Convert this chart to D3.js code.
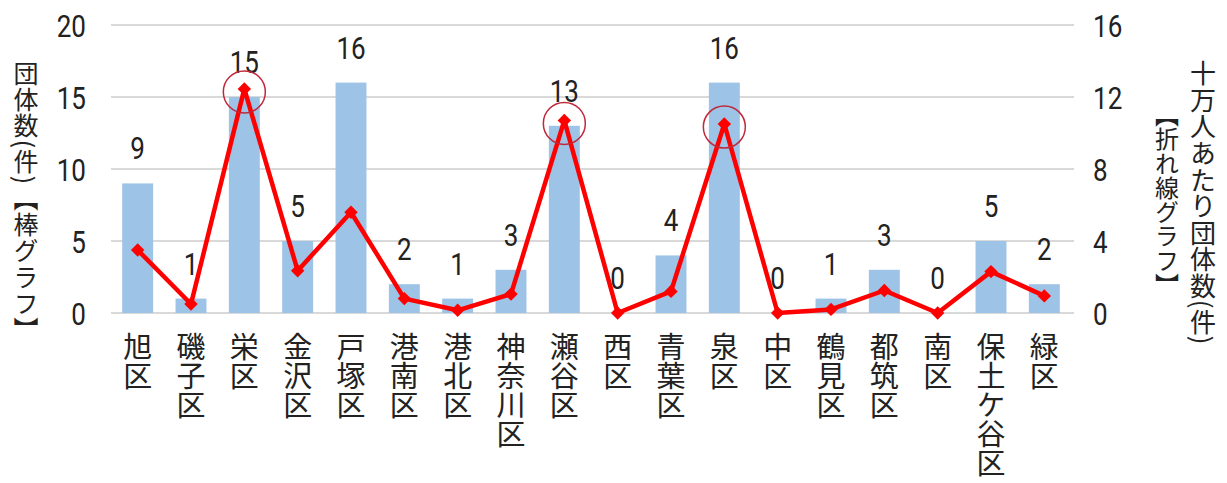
<!DOCTYPE html>
<html>
<head>
<meta charset="utf-8">
<script src="https://cdn.jsdelivr.net/npm/d3@7"></script>
<style>
  html, body { margin: 0; padding: 0; background: #fff; }
  svg { display: block; }
  .num { font-family: "Roboto", "Liberation Sans", sans-serif; fill: #222; }
  .jp { font-family: "Noto Sans CJK JP", sans-serif; fill: #222; }
  .vert { writing-mode: vertical-rl; }
</style>
</head>
<body>
<svg id="chart" width="1227" height="483"></svg>
<script>
// ---- data ----
const categories = ["旭区","磯子区","栄区","金沢区","戸塚区","港南区","港北区","神奈川区","瀬谷区","西区","青葉区","泉区","中区","鶴見区","都筑区","南区","保土ケ谷区","緑区"];
const groupCounts = [9, 1, 15, 5, 16, 2, 1, 3, 13, 0, 4, 16, 0, 1, 3, 0, 5, 2];
const perCapita = [3.5, 0.5, 12.45, 2.35, 5.6, 0.8, 0.15, 1.05, 10.7, 0, 1.2, 10.5, 0, 0.2, 1.25, 0, 2.3, 0.95];
const highlighted = ["栄区", "瀬谷区", "泉区"];
const leftTicks = [0, 5, 10, 15, 20];
const rightTicks = [0, 4, 8, 12, 16];
const leftTitle = "団体数(件)【棒グラフ】";
const rightTitle1 = "十万人あたり団体数(件)";
const rightTitle2 = "【折れ線グラフ】";

// ---- layout ----
const svg = d3.select("#chart");
const plotLeft = 111, plotRight = 1071, plotTop = 25, plotBottom = 313;
const numScale = 0.84;

const x = d3.scaleBand().domain(categories).range([plotLeft, plotRight])
  .paddingInner(0.42).paddingOuter(0.21);
const yL = d3.scaleLinear().domain([0, 20]).range([plotBottom, plotTop]);
const yR = d3.scaleLinear().domain([0, 16]).range([plotBottom, plotTop]);
const cx = d => x(d) + x.bandwidth() / 2;

// gridlines
svg.append("g").selectAll("line").data(leftTicks).join("line")
  .attr("x1", plotLeft).attr("x2", plotRight + 3)
  .attr("y1", d => yL(d)).attr("y2", d => yL(d))
  .attr("stroke", "#d9d9d9").attr("stroke-width", 2);

// left axis
const axL = d3.axisLeft(yL).tickValues(leftTicks).tickSize(0).tickPadding(0);
const gL = svg.append("g").attr("transform", "translate(86,0)").call(axL);
gL.select(".domain").remove();
gL.selectAll("text").attr("class", "num").attr("font-size", 31).attr("x", 0)
  .attr("dy", "0.36em").attr("transform", `scale(${numScale},1)`).style("fill", "#222");

// right axis
const axR = d3.axisRight(yR).tickValues(rightTicks).tickSize(0).tickPadding(0);
const gR = svg.append("g").attr("transform", "translate(1093,0)").call(axR);
gR.select(".domain").remove();
gR.selectAll("text").attr("class", "num").attr("font-size", 31).attr("x", 0)
  .attr("dy", "0.36em").attr("transform", `scale(${numScale},1)`).style("fill", "#222");

// bars
svg.append("g").selectAll("rect").data(categories).join("rect")
  .attr("x", d => x(d)).attr("width", x.bandwidth())
  .attr("y", (d, i) => yL(groupCounts[i]))
  .attr("height", (d, i) => yL(0) - yL(groupCounts[i]))
  .attr("fill", "#9dc3e6");

// bar labels
svg.append("g").selectAll("text").data(categories).join("text")
  .attr("class", "num")
  .attr("transform", (d, i) => `translate(${cx(d)},${yL(groupCounts[i]) - 24}) scale(${numScale},1)`)
  .attr("text-anchor", "middle")
  .attr("font-size", 31)
  .text((d, i) => groupCounts[i]);

// line
const line = d3.line()
  .x((d, i) => cx(categories[i]))
  .y(d => yR(d));
svg.append("path").datum(perCapita)
  .attr("d", line).attr("fill", "none")
  .attr("stroke", "#ff0000").attr("stroke-width", 4.5).attr("stroke-linejoin", "round");

// markers
svg.append("g").selectAll("path").data(perCapita).join("path")
  .attr("d", d3.symbol().type(d3.symbolDiamond2).size(115))
  .attr("transform", (d, i) => `translate(${cx(categories[i])},${yR(d)})`)
  .attr("fill", "#ff0000");

// highlight circles
svg.append("g").selectAll("circle").data(highlighted).join("circle")
  .attr("cx", d => cx(d))
  .attr("cy", d => yR(perCapita[categories.indexOf(d)]) + 3)
  .attr("r", 21)
  .attr("fill", "none").attr("stroke", "#c0283a").attr("stroke-width", 1.5);

// category labels (vertical)
svg.append("g").selectAll("text").data(categories).join("text")
  .attr("class", "jp vert")
  .attr("x", d => cx(d))
  .attr("y", 332)
  .attr("font-size", 29)
  .text(d => d);

// axis titles (vertical), fitted to their measured span
function vTitle(txt, xPos, y0, y1, size) {
  const t = svg.append("text").attr("class", "jp vert")
    .attr("x", xPos).attr("y", (y0 + y1) / 2).attr("text-anchor", "middle")
    .attr("font-size", size).text(txt);
  const h = t.node().getBBox().height;
  const n = Array.from(txt).length;
  const ls = ((y1 - y0) - h) / n;
  if (Math.abs(ls) < 6) {
    t.style("letter-spacing", ls + "px");
    t.attr("y", (y0 + y1) / 2 + ls / 2);
  }
}
vTitle(leftTitle, 26, 60, 343, 25);
vTitle(rightTitle1, 1203, 60, 345, 26);
vTitle(rightTitle2, 1167, 103, 297, 24);
</script>
</body>
</html>
